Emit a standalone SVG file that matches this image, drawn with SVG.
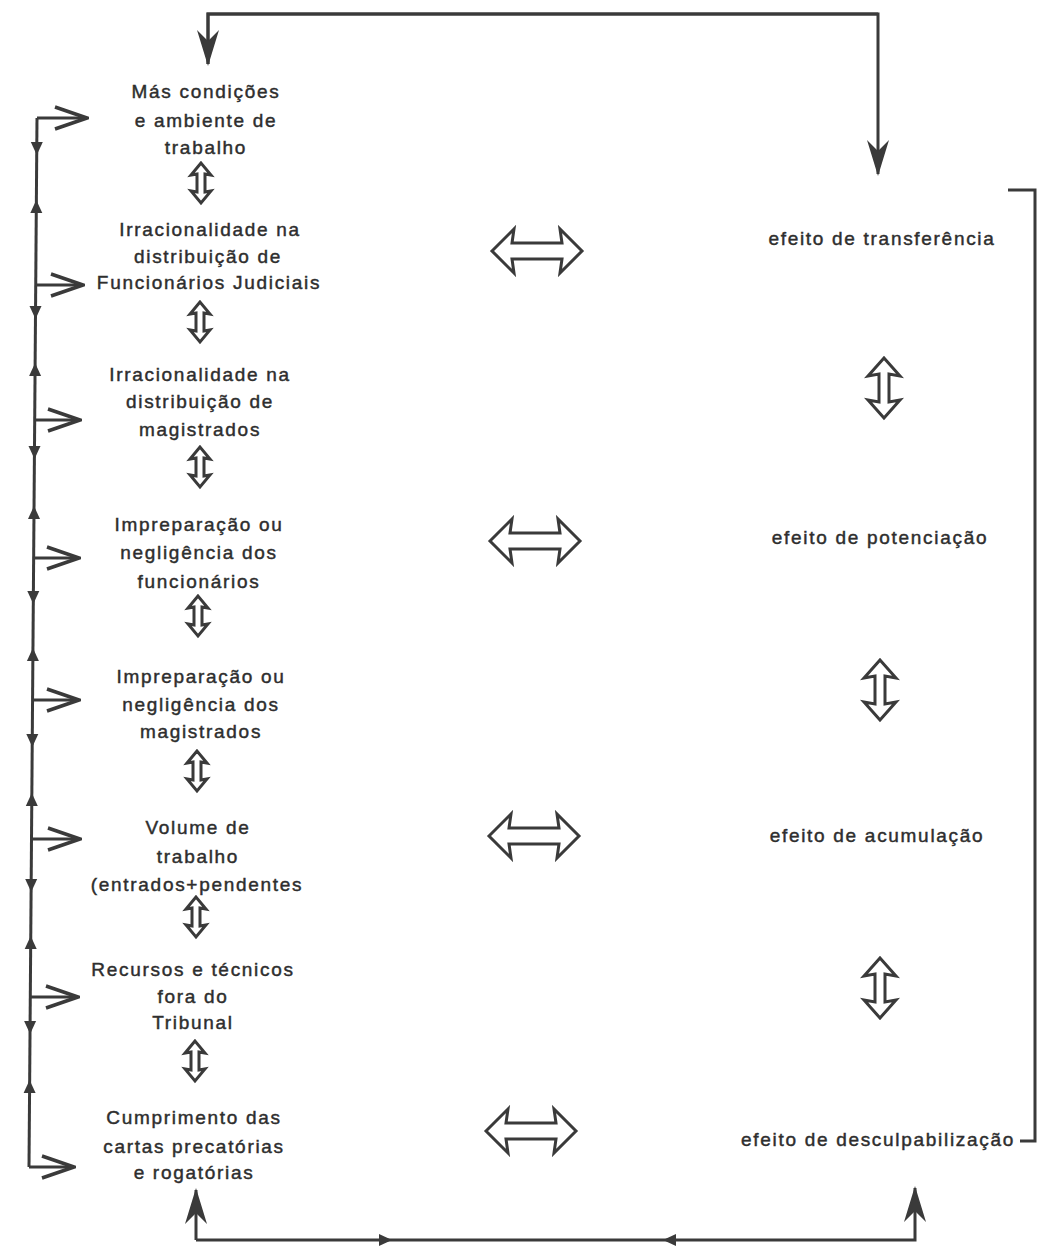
<svg xmlns="http://www.w3.org/2000/svg" width="1038" height="1253" viewBox="0 0 1038 1253">
<defs>
<style>
.t{font-family:"Liberation Sans",Arial,sans-serif;font-size:19px;fill:#2e2e2e;stroke:#2e2e2e;stroke-width:0.45px;text-anchor:middle;letter-spacing:1.7px}
.ln{fill:none;stroke:#3a3a3a;stroke-width:3;stroke-linejoin:miter}
.dbl{fill:#fff;stroke:#3a3a3a;stroke-width:3;stroke-linejoin:miter}
.tri{fill:#3a3a3a;stroke:none}
</style>
<marker id="stealth" viewBox="0 0 36 24" refX="34" refY="12" markerWidth="36" markerHeight="24" orient="auto" markerUnits="userSpaceOnUse">
<path d="M36,12 L0,1 L11,12 L0,23 Z" fill="#3a3a3a"/>
</marker>
<marker id="open" viewBox="0 0 36 26" refX="34" refY="13" markerWidth="36" markerHeight="26" orient="auto" markerUnits="userSpaceOnUse">
<path d="M2,2 L34,13 L2,24" fill="none" stroke="#3a3a3a" stroke-width="3.5"/>
</marker>
<path id="hdbl" d="M-45,0 L-23,-22 L-25,-8 L25,-8 L23,-22 L45,0 L23,22 L25,8 L-25,8 L-23,22 Z"/>
<path id="vdblL" d="M0,-20 L-10,-8 L-4,-9 L-4,9 L-10,8 L0,20 L10,8 L4,9 L4,-9 L10,-8 Z"/>
<path id="vdblR" d="M0,-30 L-16,-12 L-5,-14 L-5,14 L-16,12 L0,30 L16,12 L5,14 L5,-14 L16,-12 Z"/>
<path id="dn" d="M-6,-6 L6,-6 L0,7 Z"/>
<path id="up" d="M-6,6 L6,6 L0,-7 Z"/>
</defs>
<rect width="1038" height="1253" fill="#fff"/>

<g id="connectors">
<path class="ln" d="M208,64 V14 H878 V174" marker-end="url(#stealth)"/>
<path class="ln" d="M878,14 H208 V64" marker-end="url(#stealth)"/>
<path class="ln" d="M1008,190 H1035 V1141 H1020"/>
<path class="ln" d="M196,1240 V1190" marker-end="url(#stealth)"/>
<path class="ln" d="M196,1240 H915 V1188" marker-end="url(#stealth)"/>
<use href="#dn" class="tri" transform="translate(385,1240) rotate(-90)"/>
<use href="#dn" class="tri" transform="translate(670,1240) rotate(90)"/>
<path class="ln" d="M37,118 L29,1167"/>
<path class="ln" d="M37,118 H87" marker-end="url(#open)"/>
<path class="ln" d="M35.7,285 H83" marker-end="url(#open)"/>
<path class="ln" d="M34.7,420 H80" marker-end="url(#open)"/>
<path class="ln" d="M33.6,558 H79" marker-end="url(#open)"/>
<path class="ln" d="M32.6,700 H79" marker-end="url(#open)"/>
<path class="ln" d="M31.5,839 H80" marker-end="url(#open)"/>
<path class="ln" d="M30.3,997 H78" marker-end="url(#open)"/>
<path class="ln" d="M29,1167 H74" marker-end="url(#open)"/>
<use href="#dn" class="tri" x="36.8" y="148"/>
<use href="#up" class="tri" x="36.3" y="207"/>
<use href="#dn" class="tri" x="35.5" y="312"/>
<use href="#up" class="tri" x="35.1" y="370"/>
<use href="#dn" class="tri" x="34.5" y="452"/>
<use href="#up" class="tri" x="34.0" y="513"/>
<use href="#dn" class="tri" x="33.3" y="597"/>
<use href="#up" class="tri" x="32.9" y="655"/>
<use href="#dn" class="tri" x="32.3" y="740"/>
<use href="#up" class="tri" x="31.8" y="800"/>
<use href="#dn" class="tri" x="31.2" y="885"/>
<use href="#up" class="tri" x="30.7" y="943"/>
<use href="#dn" class="tri" x="30.1" y="1027"/>
<use href="#up" class="tri" x="29.6" y="1087"/>
<use href="#vdblL" class="dbl" x="201" y="183"/>
<use href="#vdblL" class="dbl" x="200" y="322"/>
<use href="#vdblL" class="dbl" x="200" y="467"/>
<use href="#vdblL" class="dbl" x="198" y="616"/>
<use href="#vdblL" class="dbl" x="197" y="771"/>
<use href="#vdblL" class="dbl" x="196" y="917"/>
<use href="#vdblL" class="dbl" x="195" y="1061"/>
<use href="#hdbl" class="dbl" x="537" y="251"/>
<use href="#hdbl" class="dbl" x="535" y="541"/>
<use href="#hdbl" class="dbl" x="534" y="836"/>
<use href="#hdbl" class="dbl" x="531" y="1131"/>
<use href="#vdblR" class="dbl" x="884" y="388"/>
<use href="#vdblR" class="dbl" x="880" y="690"/>
<use href="#vdblR" class="dbl" x="880" y="988"/>
</g>

<g id="n1"><text class="t" x="206" y="98">Más condições</text><text class="t" x="206" y="127">e ambiente de</text><text class="t" x="206" y="154">trabalho</text></g>
<g id="n2"><text class="t" x="210" y="236">Irracionalidade na</text><text class="t" x="208" y="263">distribuição de</text><text class="t" x="209" y="289">Funcionários Judiciais</text></g>
<g id="n3"><text class="t" x="200" y="381">Irracionalidade na</text><text class="t" x="200" y="408">distribuição de</text><text class="t" x="200" y="436">magistrados</text></g>
<g id="n4"><text class="t" x="199" y="531">Impreparação ou</text><text class="t" x="199" y="559">negligência dos</text><text class="t" x="199" y="588">funcionários</text></g>
<g id="n5"><text class="t" x="201" y="683">Impreparação ou</text><text class="t" x="201" y="711">negligência dos</text><text class="t" x="201" y="738">magistrados</text></g>
<g id="n6"><text class="t" x="198" y="834">Volume de</text><text class="t" x="198" y="863">trabalho</text><text class="t" x="197" y="891">(entrados+pendentes</text></g>
<g id="n7"><text class="t" x="193" y="976">Recursos e técnicos</text><text class="t" x="193" y="1003">fora do</text><text class="t" x="193" y="1029">Tribunal</text></g>
<g id="n8"><text class="t" x="194" y="1124">Cumprimento das</text><text class="t" x="194" y="1153">cartas precatórias</text><text class="t" x="194" y="1179">e rogatórias</text></g>

<g id="e1"><text class="t" x="882" y="245">efeito de transferência</text></g>
<g id="e2"><text class="t" x="880" y="544">efeito de potenciação</text></g>
<g id="e3"><text class="t" x="877" y="842">efeito de acumulação</text></g>
<g id="e4"><text class="t" x="878" y="1146">efeito de desculpabilização</text></g>
</svg>
